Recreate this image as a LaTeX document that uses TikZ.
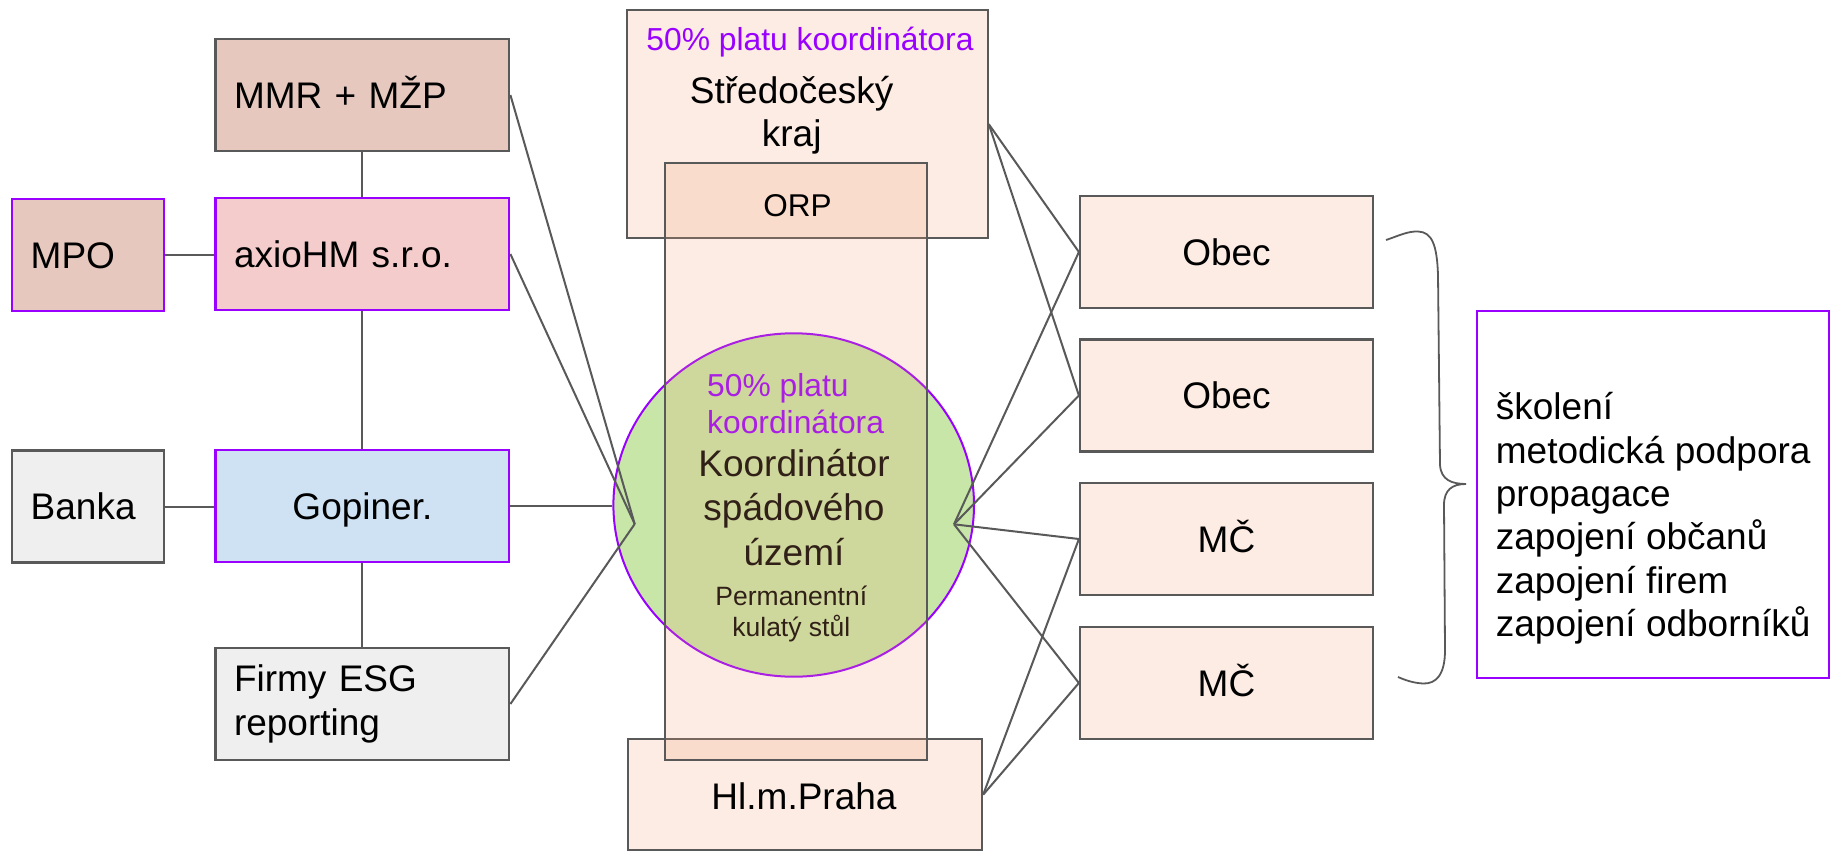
\documentclass[tikz,border=0pt]{standalone}
\usepackage{fontspec}
\setmainfont{Liberation Sans}
\usetikzlibrary{shapes.geometric}
\definecolor{bgray}{HTML}{595959}
\definecolor{purp}{HTML}{9900FF}
\definecolor{mmrC}{RGB}{230,200,191}
\definecolor{axC}{HTML}{F4CCCC}
\definecolor{gopC}{HTML}{CFE2F3}
\definecolor{grC}{HTML}{EFEFEF}
\definecolor{peach}{RGB}{252,236,227}
\definecolor{circC}{RGB}{199,230,167}
\definecolor{orpC}{RGB}{240,160,115}
\newcommand\fmain{\fontsize{37}{44}\selectfont}
\newcommand\fpurp{\fontsize{31.8}{36.7}\selectfont}
\newcommand\fsml{\fontsize{26.5}{31.7}\selectfont}
\begin{document}
\begin{tikzpicture}[x=1pt,y=-1pt,
  box/.style={draw=bgray, line width=2.2pt, rectangle, inner ysep=0pt, minimum height=112pt, font=\fmain},
  pbox/.style={box, draw=purp},
  capc/.style={text height=26.5pt, text depth=0pt},
  lbox/.style={align=left, inner xsep=18.5pt, text width=#1},
  cbox/.style={align=center, inner xsep=0pt, minimum width=#1},
  conn/.style={draw=bgray, line width=2pt},
  txt/.style={inner sep=0pt, font=\fmain}]
\useasboundingbox (0,0) rectangle (1831,851);

% left column
\node[box, capc, fill=mmrC, lbox=256.8pt] (mmr) at (362.4,95) {MMR + MŽP};
\node[pbox, capc, fill=axC, lbox=256.8pt] (axio) at (362.4,254) {axioHM s.r.o.};
\node[pbox, capc, fill=gopC, cbox=293.8pt] (gop) at (362.4,506) {Gopiner.};
\node[box, fill=grC, lbox=256.8pt, font=\fontsize{37}{44}\selectfont] (firmy) at (362.4,704) {Firmy ESG\\reporting};
\node[pbox, capc, fill=mmrC, lbox=114.6pt] (mpo) at (88,255) {MPO};
\node[box, capc, fill=grC, lbox=114.6pt] (banka) at (88,506.5) {Banka};

% right column
\node[box, capc, fill=peach, cbox=293pt] (obec1) at (1226.5,252) {Obec};
\node[box, capc, fill=peach, cbox=293pt] (obec2) at (1226.5,395.5) {Obec};
\node[box, capc, fill=peach, cbox=293pt] (mc1) at (1226.5,539) {MČ};
\node[box, capc, fill=peach, cbox=293pt] (mc2) at (1226.5,683) {MČ};

% central boxes
\node[box, fill=peach, minimum width=360.4pt, minimum height=228.3pt, inner sep=0pt] (stred) at (807.5,124.2) {};
\node[txt, font=\fpurp, text=purp] (stredpct) at (810,41.7) {50\% platu koordinátora};
\node[txt, align=center, font=\fontsize{37}{43.4}\selectfont] (stredtxt) at (791.7,115) {Středočeský\\kraj};
\node[box, fill=peach, minimum width=354.3pt, minimum height=110.7pt, inner sep=0pt] (praha) at (804.9,794.7) {};
\node[txt, capc] (prahatxt) at (804,795.8) {Hl.m.Praha};

% circle
\node[ellipse, draw=purp, line width=2pt, fill=circC, minimum width=360.6pt, minimum height=343.4pt, inner sep=0pt] (circ) at (793.7,505) {};
\node[txt, font=\fpurp, text=purp, align=left, anchor=west] (circpct) at (707,403.3) {50\% platu\\koordinátora};
\node[txt, align=center, font=\fontsize{37}{44.6}\selectfont] (koord) at (794,507.5) {Koordinátor\\spádového\\území};
\node[txt, align=center, font=\fsml] (perm) at (791.3,614) {Permanentní\\kulatý stůl};

% ORP overlay
\node[draw=bgray, line width=2.2pt, fill=orpC, fill opacity=0.2, draw opacity=1, minimum width=261.7pt, minimum height=596.7pt, inner sep=0pt] (orp) at (795.9,461.7) {};
\node[txt, font=\fontsize{31.5}{36}\selectfont, text height=22.5pt, text depth=0pt] (orptxt) at (797.6,205) {ORP};

% text box on the right
\node[draw=purp, line width=2.2pt, minimum width=351.7pt, minimum height=367.3pt, inner sep=0pt] (tb) at (1653.2,494.7) {};
\node[txt, align=left, anchor=west, font=\fontsize{37}{43.3}\selectfont] (tbtxt) at (1495.7,518.3) {školení\\metodická podpora\\propagace\\zapojení občanů\\zapojení firem\\zapojení odborníků};

% connectors
\coordinate (cl) at (634.7,524);
\coordinate (cr) at (954,524.3);
\draw[conn] (mmr.south) -- (axio.north);
\draw[conn] (axio.south) -- (gop.north);
\draw[conn] (gop.south) -- (firmy.north);
\draw[conn] (mpo.east) -- (mpo.east -| axio.west);
\draw[conn] (banka.east) -- (banka.east -| gop.west);
\draw[conn] (gop.east) -- (gop.east -| circ.west);
\draw[conn] (mmr.east) -- (cl);
\draw[conn] (axio.east) -- (cl);
\draw[conn] (firmy.east) -- (cl);
\draw[conn] (stred.east) -- (obec1.west);
\draw[conn] (stred.east) -- (obec2.west);
\draw[conn] (cr) -- (obec1.west);
\draw[conn] (cr) -- (obec2.west);
\draw[conn] (cr) -- (mc1.west);
\draw[conn] (cr) -- (mc2.west);
\draw[conn] (praha.east) -- (mc1.west);
\draw[conn] (praha.east) -- (mc2.west);

% brace
\draw[conn, line width=1.8pt] (1386,240) .. controls (1398,236) and (1408,231) .. (1418,231.5)
  .. controls (1432,232) and (1437,245) .. (1438,275) -- (1440,465)
  .. controls (1441,480) and (1452,484) .. (1466,484)
  .. controls (1452,484) and (1444,490) .. (1444,505) -- (1445,650)
  .. controls (1445,675) and (1436,684) .. (1423,683.5)
  .. controls (1413,683) and (1405,680) .. (1398,677);
\end{tikzpicture}
\end{document}
